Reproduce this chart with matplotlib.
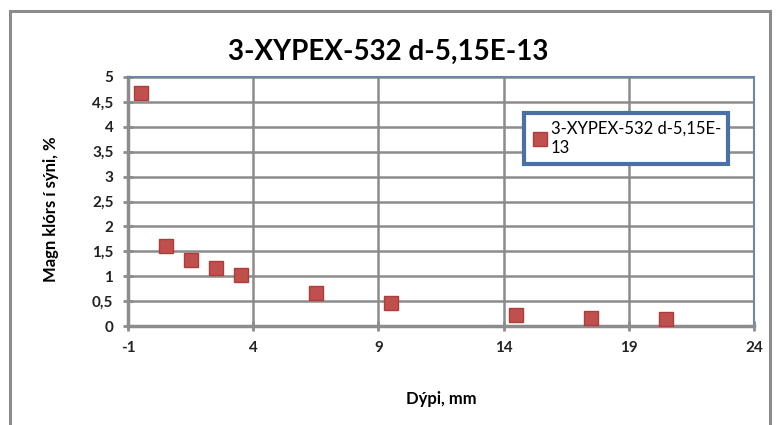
import matplotlib.pyplot as plt
from matplotlib.patches import Rectangle
from matplotlib.ticker import FuncFormatter

plt.rcParams['font.family'] = ['Lato', 'DejaVu Sans']
plt.rcParams['font.weight'] = 'bold'
plt.rcParams['axes.unicode_minus'] = False

depth = [-0.5, 0.5, 1.5, 2.5, 3.5, 6.5, 9.5, 14.5, 17.5, 20.5]
chloride = [4.68, 1.6, 1.32, 1.17, 1.02, 0.66, 0.46, 0.22, 0.16, 0.15]
series_name = '3-XYPEX-532 d-5,15E-\n13'
title = '3-XYPEX-532 d-5,15E-13'

fig = plt.figure(figsize=(7.76, 4.25), dpi=100)
fig.patches.append(Rectangle((10/776, -0.05), 760/776, 1 - 11/425 + 0.05,
                             transform=fig.transFigure, fill=False,
                             edgecolor='#8c8c8c', linewidth=2.2))

ax = fig.add_axes([128/776, 1 - 326/425, 626/776, 249/425])
ax.plot(depth, chloride, 's', color='#c0504d', markeredgecolor='#b03c39',
        markersize=10.5, label=series_name, zorder=3)

ax.set_xlim(-1, 24)
ax.set_ylim(0, 5)
ax.set_xticks([-1, 4, 9, 14, 19, 24])
ax.set_yticks([i * 0.5 for i in range(11)])
ax.yaxis.set_major_formatter(FuncFormatter(lambda v, p: f'{v:g}'.replace('.', ',')))
ax.grid(True, color='#8c8c8c', linewidth=1.8)
ax.set_axisbelow(True)

for side in ['left', 'bottom']:
    ax.spines[side].set_color('#8c8c8c')
    ax.spines[side].set_linewidth(2.5)
for side in ['top', 'right']:
    ax.spines[side].set_color('#6f86a6')
    ax.spines[side].set_linewidth(1.5)
ax.tick_params(direction='inout', length=7, width=2, color='#8c8c8c',
               labelsize=11, pad=7, labelcolor='#222222')

fig.text(388/776, 1 - 52/425, title, fontsize=20, fontweight='bold',
         ha='center', va='center')
ax.set_xlabel('Dýpi, mm', fontsize=12, fontweight='bold', labelpad=26)
ax.set_ylabel('Magn klórs í sýni, %', fontsize=12, fontweight='bold')
ax.yaxis.set_label_coords(-0.11, 0.47)

leg = ax.legend(loc='upper left', handletextpad=0.15, borderaxespad=0,
                handlelength=1.0, borderpad=0.45, fancybox=False, framealpha=1,
                prop={'family': ['Lato', 'DejaVu Sans'], 'size': 12, 'weight': 'normal'})
leg.set_bbox_to_anchor((524/776, 1 - 113/425), transform=fig.transFigure)
leg.get_frame().set_edgecolor('#4a70a8')
leg.get_frame().set_linewidth(3)
for t in leg.get_texts():
    t.set_linespacing(1.3)

fig.savefig('out.png', dpi=100)
